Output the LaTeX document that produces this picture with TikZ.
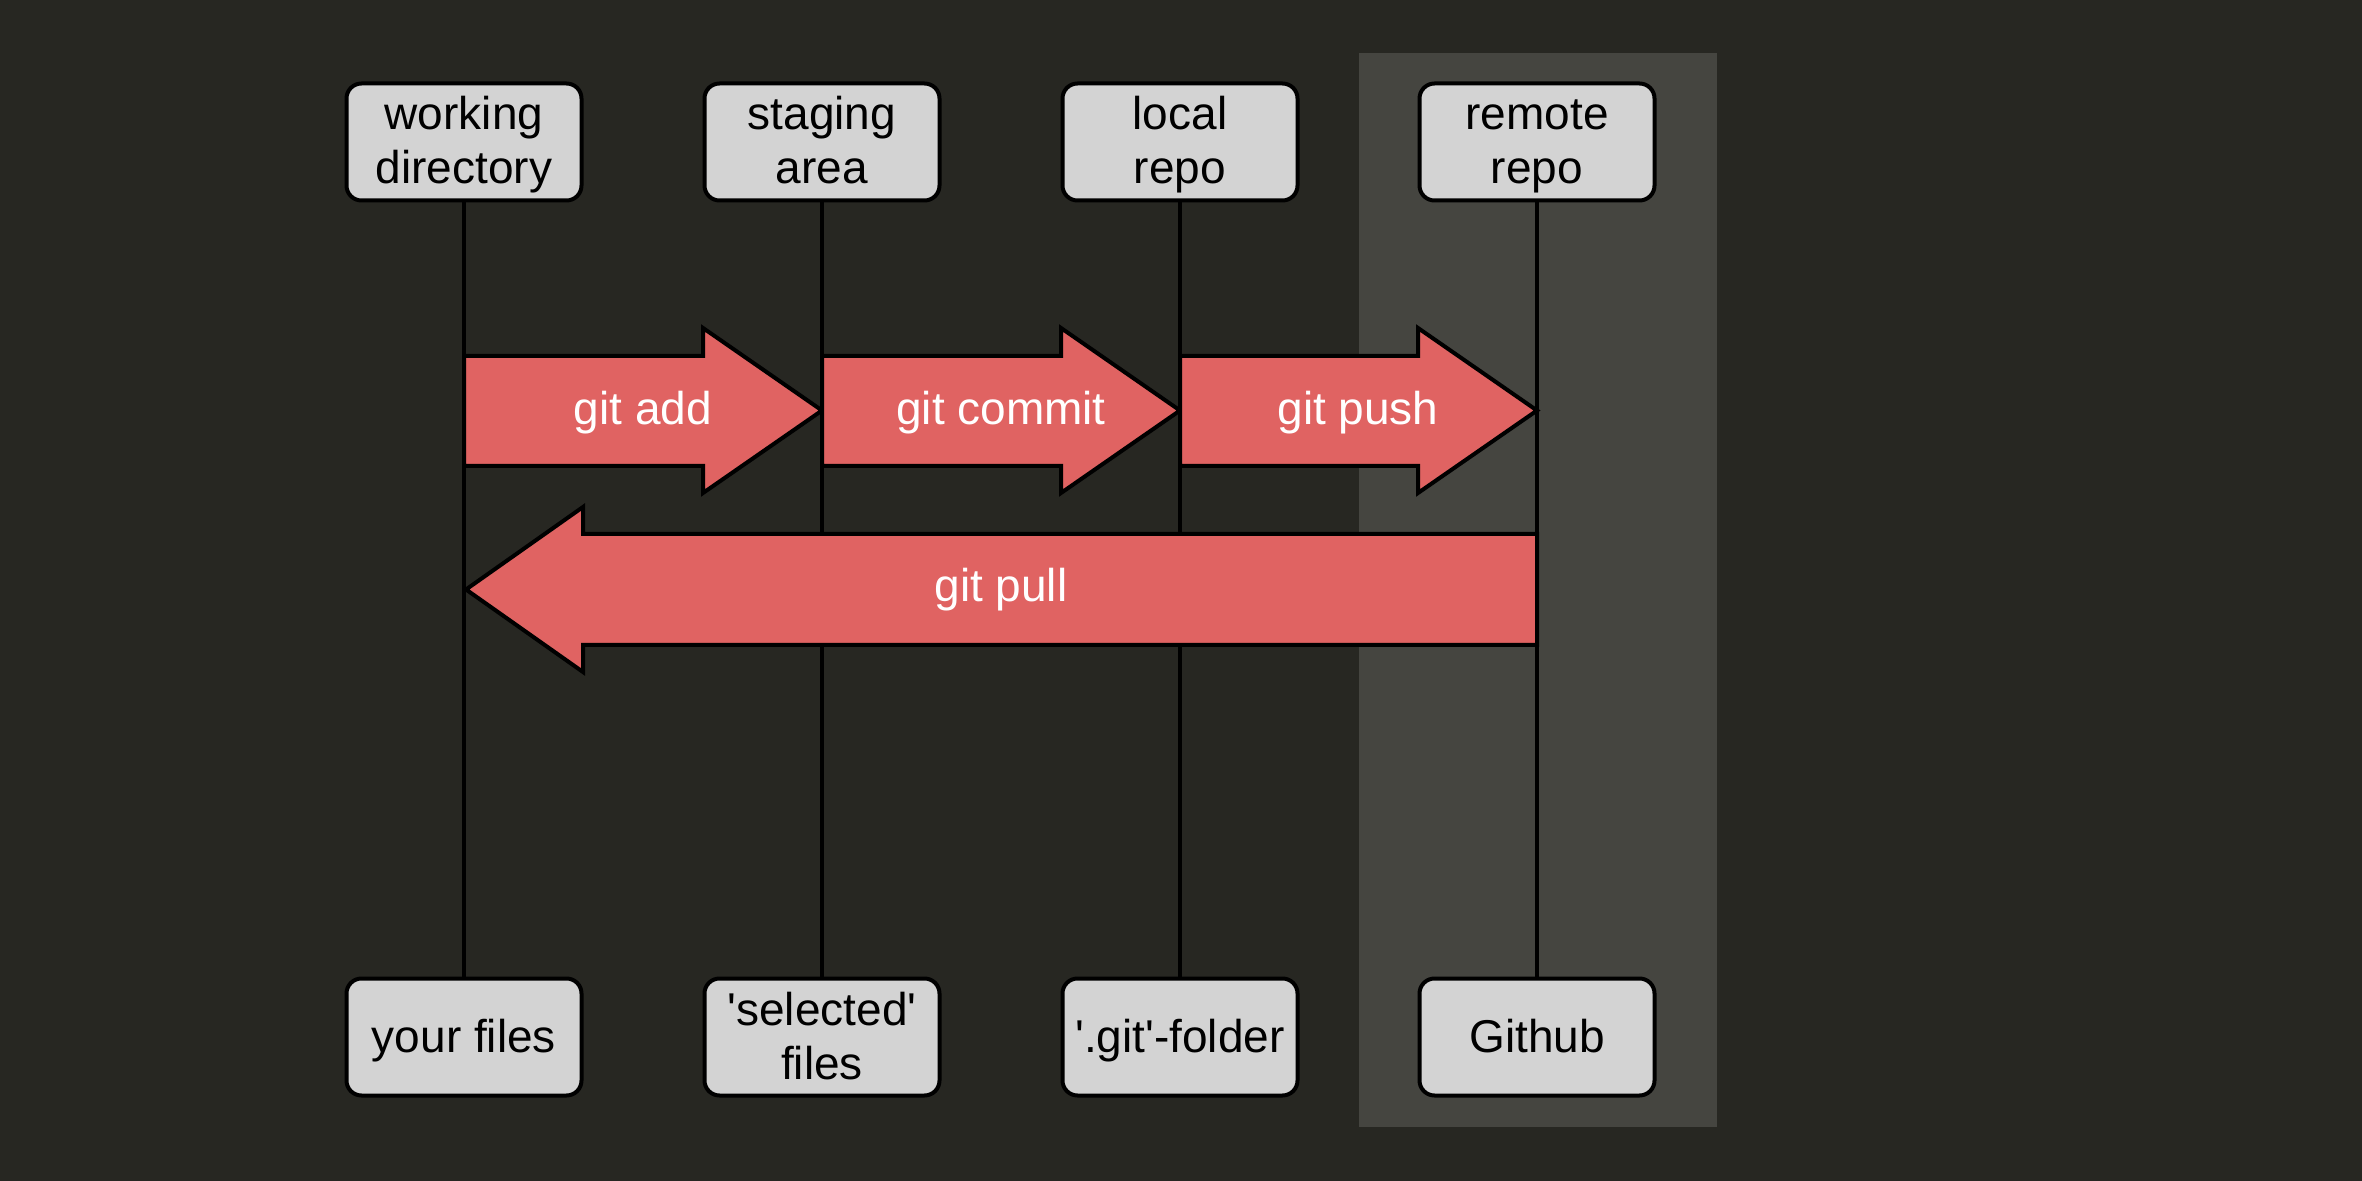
\documentclass[tikz,border=0pt]{standalone}
\usepackage{fontspec}
\setmainfont{Liberation Sans}
\definecolor{bg}{HTML}{272722}
\definecolor{panel}{HTML}{454540}
\definecolor{boxfill}{HTML}{D3D3D3}
\definecolor{arrowred}{HTML}{E06362}
\newcommand{\lnst}{\rule[-6pt]{0pt}{27pt}}
\begin{document}
\begin{tikzpicture}[x=0.5pt,y=-0.5pt,
  box/.style={draw=black, line width=2pt, fill=boxfill, rounded corners=7.5pt,
    minimum width=117.5pt, minimum height=58.5pt, inner sep=0pt, align=center,
    font=\fontsize{23}{27}\selectfont, text=black},
  vline/.style={draw=black, line width=2pt},
  blockarrow/.style={draw=black, line width=2pt, fill=arrowred, line join=miter},
  arrowlabel/.style={text=white, font=\fontsize{23}{27}\selectfont, inner sep=0pt}]
\fill[bg] (0,0) rectangle (2362,1181);
\useasboundingbox (0,0) rectangle (2362,1181);
\fill[panel] (1359,53) rectangle (1717,1127);
% top boxes
\node[box] (wd) at (464,142) {\lnst working\\\lnst directory};
\node[box] (sa) at (822,142) {\lnst staging\\\lnst area};
\node[box] (lr) at (1180,142) {\lnst local\\\lnst repo};
\node[box] (rr) at (1537,142) {\lnst remote\\\lnst repo};
% bottom boxes
\node[box] (yf) at (464,1037) {\lnst your files};
\node[box] (sf) at (822,1037) {\lnst\textquotesingle selected\textquotesingle\\\lnst files};
\node[box] (gf) at (1180,1037) {\lnst\textquotesingle.git\textquotesingle-folder};
\node[box] (gh) at (1537,1037) {\lnst Github};
% lifelines
\draw[vline] (wd.south) -- (yf.north);
\draw[vline] (sa.south) -- (sf.north);
\draw[vline] (lr.south) -- (gf.north);
\draw[vline] (rr.south) -- (gh.north);
% block arrows
\draw[blockarrow] (464,356) -- (703,356) -- (703,328) -- (822,410.5) -- (703,493) -- (703,466) -- (464,466) -- cycle;
\draw[blockarrow] (822,356) -- (1061,356) -- (1061,328) -- (1180,410.5) -- (1061,493) -- (1061,466) -- (822,466) -- cycle;
\draw[blockarrow] (1180,356) -- (1418,356) -- (1418,328) -- (1537,410.5) -- (1418,493) -- (1418,466) -- (1180,466) -- cycle;
\draw[blockarrow] (1537,534) -- (583,534) -- (583,507) -- (466,589.5) -- (583,672) -- (583,645) -- (1537,645) -- cycle;
\node[arrowlabel] (ladd) at (643,413) {git add};
\node[arrowlabel] (lcommit) at (1001,413) {git commit};
\node[arrowlabel] (lpush) at (1358,413) {git push};
\node[arrowlabel] (lpull) at (1001,590) {git pull};
\end{tikzpicture}
\end{document}
